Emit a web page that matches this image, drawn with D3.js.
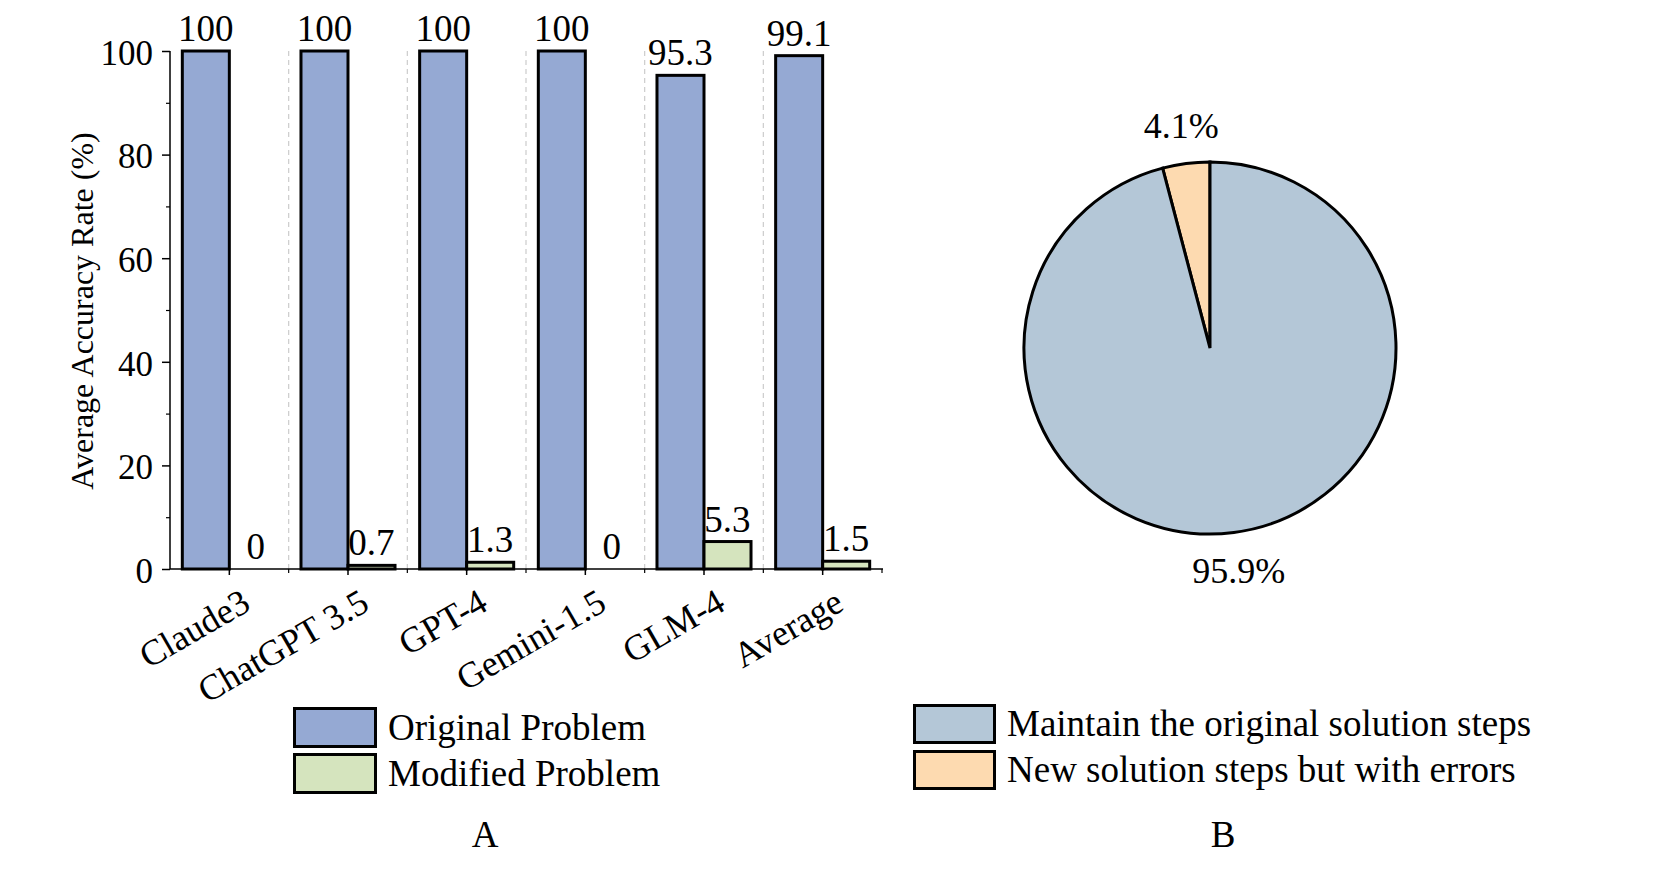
<!DOCTYPE html>
<html>
<head>
<meta charset="utf-8">
<script src="https://cdn.jsdelivr.net/npm/d3@7"></script>
<style>
  html, body { margin: 0; padding: 0; background: #fff; }
  svg { display: block; }
  text { font-family: "Liberation Serif", "Times New Roman", serif; fill: #000; }
</style>
</head>
<body>
<svg id="chart" width="1661" height="886"></svg>
<script>
// ---------- data ----------
const categories = ["Claude3", "ChatGPT 3.5", "GPT-4", "Gemini-1.5", "GLM-4", "Average"];
const seriesNames = ["Original Problem", "Modified Problem"];
const originalValues = [100, 100, 100, 100, 95.3, 99.1];
const modifiedValues = [0, 0.7, 1.3, 0, 5.3, 1.5];
const yTicks = [0, 20, 40, 60, 80, 100];
const yMinorTicks = [10, 30, 50, 70, 90];
const yTitle = "Average Accuracy Rate (%)";

const pieLabels = ["Maintain the original solution steps", "New solution steps but with errors"];
const pieValues = [95.9, 4.1];
const pieText = ["95.9%", "4.1%"];

const barColors = ["#95a9d3", "#d5e4be"];
const pieColors = ["#b4c7d7", "#fddab0"];

// ---------- setup ----------
const svg = d3.select("#chart");
svg.append("rect").attr("width", 1661).attr("height", 886).attr("fill", "#fff");

// ---------- Bar chart (A) ----------
const x0 = d3.scaleBand().domain(categories).range([170, 882]).paddingInner(0).paddingOuter(0);
const x1 = d3.scaleBand().domain(seriesNames).range([0, x0.step()]).paddingInner(0).paddingOuter(0.262);
const y = d3.scaleLinear().domain([0, 100]).range([569, 51]);

const gA = svg.append("g");

// dashed separators
const bounds = d3.range(1, categories.length).map(i => x0.range()[0] + i * x0.step());
gA.selectAll("line.sep").data(bounds).enter().append("line")
  .attr("x1", d => d).attr("x2", d => d)
  .attr("y1", y(100)).attr("y2", y(0))
  .attr("stroke", "#cccccc").attr("stroke-width", 1.2).attr("stroke-dasharray", "5,4");

// bars
const rows = categories.map((c, i) => ({ cat: c, vals: [originalValues[i], modifiedValues[i]] }));
const grp = gA.selectAll("g.cat").data(rows).enter().append("g")
  .attr("transform", d => `translate(${x0(d.cat)},0)`);
grp.selectAll("rect").data(d => d.vals.map((v, j) => ({ s: seriesNames[j], v, j })))
  .enter().append("rect")
  .attr("x", d => x1(d.s))
  .attr("width", x1.bandwidth())
  .attr("y", d => y(d.v))
  .attr("height", d => y(0) - y(d.v))
  .attr("fill", d => barColors[d.j])
  .attr("stroke", "#000").attr("stroke-width", 3)
  .attr("display", d => d.v === 0 ? "none" : null);

grp.selectAll("text.val").data(d => d.vals.map((v, j) => ({ s: seriesNames[j], v, j })))
  .enter().append("text")
  .attr("x", d => x1(d.s) + x1.bandwidth() / 2 + (d.v === 0 ? 3 : 0))
  .attr("y", d => y(d.v) - 10)
  .attr("text-anchor", "middle")
  .attr("font-size", 37)
  .text(d => d.v);

// y axis
const yAxis = d3.axisLeft(y).tickValues(yTicks).tickSize(8).tickPadding(9).tickFormat(d3.format("d"));
const yg = gA.append("g").attr("transform", "translate(170,0)").call(yAxis);
yg.select(".domain").attr("stroke", "#000").attr("stroke-width", 1.5).attr("d", `M0,${y(0)}V${y(100)}`);
yg.selectAll(".tick line").attr("stroke", "#000").attr("stroke-width", 1.5);
yg.selectAll(".tick text").attr("font-size", 35).attr("dy", "0.38em");
const yMinor = d3.axisLeft(y).tickValues(yMinorTicks).tickSize(4).tickFormat("");
const ymg = gA.append("g").attr("transform", "translate(170,0)").call(yMinor);
ymg.select(".domain").remove();
ymg.selectAll(".tick line").attr("stroke", "#000").attr("stroke-width", 1.2);

// x axis
const xAxis = d3.axisBottom(x0).tickSize(6).tickFormat("");
const xg = gA.append("g").attr("transform", `translate(0,${y(0)})`).call(xAxis);
xg.select(".domain").attr("stroke", "#000").attr("stroke-width", 1.5).attr("d", `M170,0H883`);
xg.selectAll(".tick line").attr("stroke", "#000").attr("stroke-width", 1.5);
const minorX = d3.range(1, categories.length + 1).map(i => x0.range()[0] + i * x0.step());
xg.selectAll("line.minor").data(minorX).enter().append("line")
  .attr("x1", d => d).attr("x2", d => d).attr("y1", 0).attr("y2", 4)
  .attr("stroke", "#000").attr("stroke-width", 1.2);

gA.selectAll("text.xl").data(categories).enter().append("text")
  .attr("text-anchor", "end")
  .attr("font-size", 36)
  .attr("transform", d => `translate(${x0(d) + x0.bandwidth() / 2 + 23},609) rotate(-30)`)
  .text(d => d);

// y title
gA.append("text")
  .attr("transform", "translate(93,311) rotate(-90)")
  .attr("text-anchor", "middle")
  .attr("font-size", 32)
  .text(yTitle);

// legend A
const legA = gA.append("g");
seriesNames.forEach((s, i) => {
  legA.append("rect").attr("x", 294.5).attr("y", 708.5 + i * 46).attr("width", 81).attr("height", 38)
    .attr("fill", barColors[i]).attr("stroke", "#000").attr("stroke-width", 3);
  legA.append("text").attr("x", 388).attr("y", 740 + i * 46).attr("font-size", 37).text(s);
});
gA.append("text").attr("x", 485).attr("y", 847).attr("text-anchor", "middle").attr("font-size", 37).text("A");

// ---------- Pie chart (B) ----------
const cx = 1210, cy = 348, R = 186;
const gB = svg.append("g").attr("transform", `translate(${cx},${cy})`);
const order = [1, 0]; // error slice first, just counter-clockwise of 12 o'clock
const pieInput = order.map(i => ({ i, v: pieValues[i] }));
const startA = -pieValues[1] / 100 * 2 * Math.PI;
const pie = d3.pie().sort(null).value(d => d.v).startAngle(startA).endAngle(startA + 2 * Math.PI);
const arcs = pie(pieInput);
const arc = d3.arc().innerRadius(0).outerRadius(R);
gB.selectAll("path").data(arcs).enter().append("path")
  .attr("d", arc)
  .attr("fill", d => pieColors[d.data.i])
  .attr("stroke", "#000").attr("stroke-width", 3).attr("stroke-linejoin", "miter");
const labelArc = d3.arc().innerRadius(R * 1.205).outerRadius(R * 1.205);
gB.selectAll("text").data(arcs).enter().append("text")
  .attr("transform", d => `translate(${labelArc.centroid(d)})`)
  .attr("text-anchor", "middle")
  .attr("dy", "0.35em")
  .attr("font-size", 36)
  .text(d => pieText[d.data.i]);

// legend B
const legB = svg.append("g");
pieLabels.forEach((s, i) => {
  legB.append("rect").attr("x", 914.5).attr("y", 705.5 + i * 46).attr("width", 80).attr("height", 37)
    .attr("fill", pieColors[i]).attr("stroke", "#000").attr("stroke-width", 3);
  legB.append("text").attr("x", 1007).attr("y", 736 + i * 46).attr("font-size", 37).text(s);
});
svg.append("text").attr("x", 1223).attr("y", 847).attr("text-anchor", "middle").attr("font-size", 37).text("B");
</script>
</body>
</html>
